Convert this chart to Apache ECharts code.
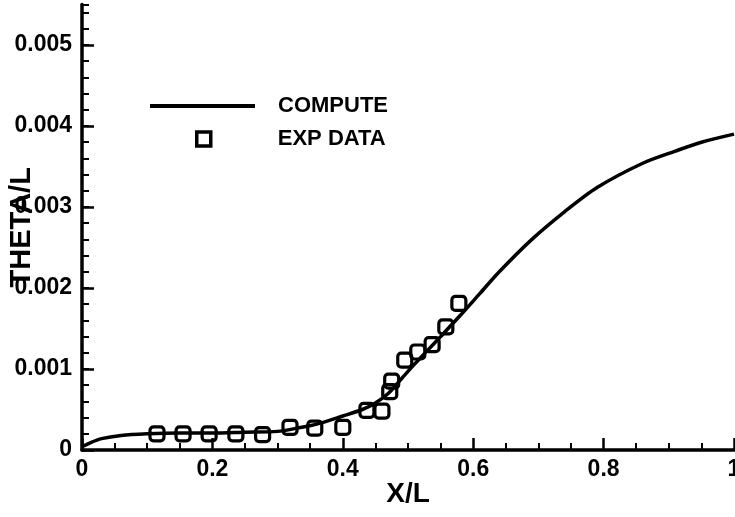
<!DOCTYPE html>
<html>
<head>
<meta charset="utf-8">
<script src="https://cdn.jsdelivr.net/npm/echarts@6/dist/echarts.min.js"></script>
<style>
  html, body { margin: 0; padding: 0; background: #fff; }
  #chart { width: 735px; height: 517px; }
</style>
</head>
<body>
<div id="chart"></div>
<script>
// Computed momentum-thickness curve along the body
const xCompute = [0, 0.01, 0.03, 0.06, 0.1, 0.15, 0.2, 0.25, 0.3, 0.33, 0.36, 0.4, 0.43, 0.45, 0.47, 0.49, 0.51, 0.53, 0.55, 0.58, 0.61, 0.64, 0.69, 0.74, 0.79, 0.86, 0.91, 0.95, 1.0];
const thetaCompute = [0.00004, 0.00008, 0.00014, 0.00018, 0.0002, 0.00021, 0.00021, 0.00022, 0.00023, 0.00027, 0.00032, 0.00042, 0.0005, 0.00058, 0.0007, 0.00088, 0.00106, 0.00123, 0.0014, 0.00166, 0.00193, 0.0022, 0.0026, 0.00294, 0.00324, 0.00354, 0.00369, 0.0038, 0.0039];

// Measured values
const xExp = [0.115, 0.155, 0.195, 0.236, 0.277, 0.319, 0.357, 0.400, 0.437, 0.460, 0.472, 0.475, 0.495, 0.515, 0.537, 0.558, 0.578];
const thetaExp = [0.0002, 0.0002, 0.0002, 0.0002, 0.00019, 0.00028, 0.00027, 0.00028, 0.00049, 0.00048, 0.00072, 0.00085, 0.00111, 0.00121, 0.0013, 0.00152, 0.00181];

const seriesNames = ['COMPUTE', 'EXP DATA'];
const xTitle = 'X/L';
const yTitle = 'THETA/L';

const FONT = '"Liberation Sans", Arial, sans-serif';
const INK = '#000';

const chart = echarts.init(document.getElementById('chart'), null, { renderer: 'canvas' });

const yBase = {
  type: 'value',
  min: 0,
  max: 0.0055,
  position: 'left',
  splitLine: { show: false }
};

const legendText = { fontFamily: FONT, fontWeight: 'bold', fontSize: 22, color: INK };

chart.setOption({
  animation: false,
  backgroundColor: '#fff',
  grid: {
    left: 82, right: 1, top: 4.5, bottom: 67,
    containLabel: false,
    outerBoundsMode: 'none'
  },
  legend: [
    {
      data: [{ name: seriesNames[0], icon: 'rect' }],
      left: 150, top: 95,
      padding: 0,
      itemWidth: 105, itemHeight: 4,
      selectedMode: false,
      textStyle: Object.assign({ padding: [0, 0, 0, 18] }, legendText)
    },
    {
      data: [{ name: seriesNames[1], icon: 'rect' }],
      left: 195, top: 128,
      padding: 0,
      itemWidth: 14, itemHeight: 14,
      selectedMode: false,
      itemStyle: { color: 'rgba(0,0,0,0)', borderColor: INK, borderWidth: 3.5, opacity: 1 },
      textStyle: Object.assign({ padding: [0, 0, 0, 62] }, legendText)
    }
  ],
  xAxis: {
    type: 'value',
    min: 0, max: 1, interval: 0.2,
    name: xTitle,
    nameLocation: 'middle',
    nameGap: 30,
    nameMoveOverlap: false,
    nameTextStyle: { fontFamily: FONT, fontWeight: 'bold', fontSize: 28, color: INK },
    axisLine: { show: true, lineStyle: { color: INK, width: 3.5 } },
    axisTick: { show: true, inside: true, length: 12, lineStyle: { color: INK, width: 2.5 } },
    minorTick: { show: true, splitNumber: 4, length: 7, lineStyle: { color: INK, width: 2 } },
    axisLabel: { fontFamily: FONT, fontWeight: 'bold', fontSize: 23, color: INK, margin: 8 },
    splitLine: { show: false }
  },
  yAxis: [
    Object.assign({}, yBase, {
      interval: 0.001,
      name: yTitle,
      nameLocation: 'middle',
      nameGap: 46,
      nameRotate: 90,
      nameMoveOverlap: false,
      nameTextStyle: { fontFamily: FONT, fontWeight: 'bold', fontSize: 29, color: INK },
      axisLine: { show: true, lineStyle: { color: INK, width: 3.5 } },
      axisTick: { show: true, inside: true, length: 12, lineStyle: { color: INK, width: 2.5 } },
      axisLabel: { fontFamily: FONT, fontWeight: 'bold', fontSize: 23, color: INK, margin: 10, showMaxLabel: false }
    }),
    Object.assign({}, yBase, {
      interval: 0.0002,
      axisLine: { show: false },
      axisTick: { show: true, inside: true, length: 7, lineStyle: { color: INK, width: 2 } },
      axisLabel: { show: false }
    })
  ],
  series: [
    {
      name: seriesNames[0],
      type: 'line',
      yAxisIndex: 0,
      data: xCompute.map((x, i) => [x, thetaCompute[i]]),
      smooth: 0.3,
      showSymbol: false,
      symbol: 'none',
      lineStyle: { color: INK, width: 3.5 },
      itemStyle: { color: INK },
      z: 2
    },
    {
      name: seriesNames[1],
      type: 'scatter',
      yAxisIndex: 0,
      data: xExp.map((x, i) => [x, thetaExp[i]]),
      symbol: 'roundRect',
      symbolSize: 14,
      itemStyle: { color: 'rgba(0,0,0,0)', borderColor: INK, borderWidth: 3.2, opacity: 1 },
      z: 3
    }
  ]
});
</script>
</body>
</html>
